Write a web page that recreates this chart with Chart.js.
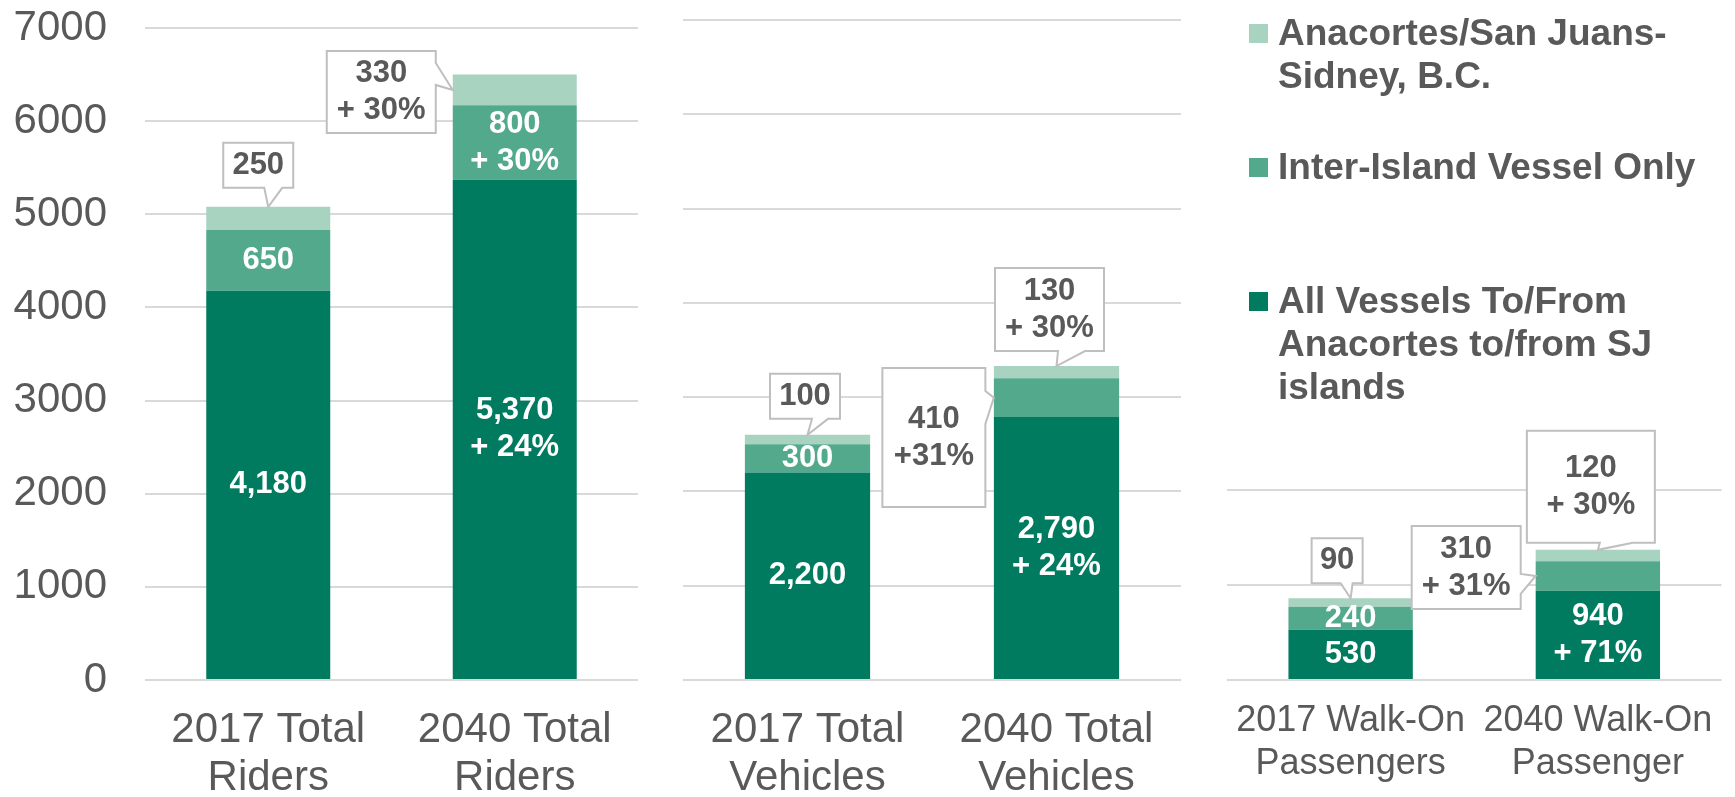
<!DOCTYPE html>
<html>
<head>
<meta charset="utf-8">
<title>Ferry ridership 2017 vs 2040</title>
<script src="https://cdn.jsdelivr.net/npm/chart.js@4.4.1/dist/chart.umd.min.js"></script>
<style>
  html, body { margin: 0; padding: 0; background: #fff; }
  body { width: 1735px; height: 797px; position: relative; overflow: hidden; }
  canvas { position: absolute; top: 0; }
  #legend {
    position: absolute; left: 1249px; top: 0;
    font: bold 37px 'Liberation Sans', Arial, sans-serif; color: #595959;
  }
  .item { position: absolute; left: 0; width: 480px; line-height: 43px; }
  .swatch { position: absolute; left: 0; top: 13px; width: 19px; height: 19px; }
  .text { margin-left: 29px; width: 445px; }
</style>
</head>
<body>
<canvas id="ridersChart" width="660" height="797" style="left:0px"></canvas>
<canvas id="vehiclesChart" width="545" height="797" style="left:660px"></canvas>
<canvas id="walkOnChart" width="530" height="797" style="left:1205px"></canvas>
<div id="legend"></div>

<script>
// Series (bottom to top of each stack)
const seriesNames = [
  'All Vessels To/From Anacortes to/from SJ islands',
  'Inter-Island Vessel Only',
  'Anacortes/San Juans-Sidney, B.C.',
];
const seriesColors = ['#007B5F', '#53A98B', '#A8D3C0'];

// Total riders
const riderLabels = [['2017 Total', 'Riders'], ['2040 Total', 'Riders']];
const riderAllVessels = [4180, 5370];
const riderInterIsland = [650, 800];
const riderSidney = [250, 330];
const riderGrowth = ['+ 24%', '+ 30%', '+ 30%'];

// Total vehicles
const vehicleLabels = [['2017 Total', 'Vehicles'], ['2040 Total', 'Vehicles']];
const vehicleAllVessels = [2200, 2790];
const vehicleInterIsland = [300, 410];
const vehicleSidney = [100, 130];
const vehicleGrowth = ['+ 24%', '+31%', '+ 30%'];

// Walk-on passengers
const walkOnLabels = [['2017 Walk-On', 'Passengers'], ['2040 Walk-On', 'Passenger']];
const walkOnAllVessels = [530, 940];
const walkOnInterIsland = [240, 310];
const walkOnSidney = [90, 120];
const walkOnGrowth = ['+ 71%', '+ 31%', '+ 30%'];

const fontFamily = "'Liberation Sans', Arial, sans-serif";
const textGray = '#595959';
const LINE = 37;

Chart.defaults.font.family = fontFamily;
Chart.defaults.color = textGray;

// Build the legend (top entry is the top of the stack)
const legendEl = document.getElementById('legend');
const legendTops = [279, 145, 11];
seriesNames.forEach((name, i) => {
  const item = document.createElement('div');
  item.className = 'item';
  item.style.top = legendTops[i] + 'px';
  item.innerHTML = '<div class="swatch" style="background:' + seriesColors[i] + '"></div>' +
    '<div class="text">' + name + '</div>';
  legendEl.appendChild(item);
});

// Label text: value on 2017 bars, value + growth on 2040 bars
function valueText(values, growth, seriesIdx) {
  return values.map((v, j) => {
    const s = v.toLocaleString('en-US');
    return j === 1 ? [s, growth[seriesIdx]] : [s];
  });
}

function drawLines(ctx, lines, x, cy) {
  lines.forEach((line, k) => {
    ctx.fillText(line, x, cy + (k - (lines.length - 1) / 2) * LINE);
  });
}

// Callout box with a pointer to the bar segment
function drawCallout(ctx, bar, c, lines) {
  let tx, ty;
  if (c.anchor === 'top') {
    tx = bar.x; ty = bar.y;
  } else {
    tx = bar.x - bar.width / 2; ty = (bar.y + bar.base) / 2;
  }
  const l = tx + c.box[0], r = tx + c.box[1], t = ty + c.box[2], b = ty + c.box[3];
  ctx.beginPath();
  ctx.moveTo(l, t);
  ctx.lineTo(r, t);
  if (c.anchor === 'top') {
    ctx.lineTo(r, b);
    ctx.lineTo(tx + c.ptr[1], b);
    ctx.lineTo(tx, ty);
    ctx.lineTo(tx + c.ptr[0], b);
    ctx.lineTo(l, b);
  } else {
    ctx.lineTo(r, ty + c.ptr[0]);
    ctx.lineTo(tx, ty);
    ctx.lineTo(r, ty + c.ptr[1]);
    ctx.lineTo(r, b);
    ctx.lineTo(l, b);
  }
  ctx.closePath();
  ctx.fillStyle = '#fff';
  ctx.fill();
  ctx.lineWidth = 2;
  ctx.strokeStyle = '#BFBFBF';
  ctx.stroke();
  ctx.fillStyle = textGray;
  drawLines(ctx, lines, (l + r) / 2, (t + b) / 2);
}

const segmentLabels = {
  id: 'segmentLabels',
  afterDatasetsDraw(chart, args, opts) {
    const ctx = chart.ctx;
    ctx.save();
    ctx.font = 'bold 31px ' + fontFamily;
    ctx.textAlign = 'center';
    ctx.textBaseline = 'middle';
    chart.data.datasets.forEach((ds, i) => {
      chart.getDatasetMeta(i).data.forEach((bar, j) => {
        const lines = ds.valueText[j];
        const call = (opts.callouts || []).find((c) => c.ds === i && c.idx === j);
        if (call) {
          drawCallout(ctx, bar, call, lines);
        } else {
          ctx.fillStyle = '#fff';
          drawLines(ctx, lines, bar.x, (bar.y + bar.base) / 2);
        }
      });
    });
    ctx.restore();
  },
};

function createStackChart(id, labels, series, growth, opts) {
  const ctx = document.getElementById(id);
  const datasets = series.map((values, i) => ({
    label: seriesNames[i],
    data: values,
    valueText: valueText(values, growth, i),
    backgroundColor: seriesColors[i],
    borderWidth: 0,
    barPercentage: 0.503,
    categoryPercentage: 1.0,
  }));

  return new Chart(ctx, {
    type: 'bar',
    data: { labels, datasets },
    plugins: [segmentLabels],
    options: {
      responsive: false,
      animation: false,
      layout: { padding: opts.padding },
      plugins: {
        legend: { display: false },
        tooltip: { enabled: false },
        segmentLabels: { callouts: opts.callouts },
      },
      scales: {
        x: {
          stacked: true,
          grid: { display: false, drawTicks: false },
          border: { display: false },
          ticks: {
            color: textGray,
            font: { size: opts.xFont, lineHeight: opts.xLineHeight },
            padding: opts.xPad,
            maxRotation: 0,
            autoSkip: false,
          },
          afterFit(scale) { scale.height = 117; },
        },
        y: {
          stacked: true,
          min: 0,
          max: opts.yMax,
          ticks: {
            display: opts.showTicks,
            stepSize: 1000,
            color: textGray,
            font: { size: 42 },
            padding: 38,
            callback: (v) => String(v),
          },
          grid: { color: '#D9D9D9', lineWidth: 2, drawTicks: false },
          border: { display: false },
          afterFit(scale) {
            scale.width = opts.yWidth;
            scale.paddingTop = 0;
            scale.paddingBottom = 0;
          },
        },
      },
    },
  });
}

createStackChart('ridersChart', riderLabels,
  [riderAllVessels, riderInterIsland, riderSidney], riderGrowth, {
    padding: { left: 0, right: 22, top: 28, bottom: 0 },
    yMax: 7000, showTicks: true, yWidth: 145,
    xFont: 42, xLineHeight: 1.15, xPad: 26,
    callouts: [
      { ds: 2, idx: 0, anchor: 'top', box: [-45, 25, -64, -19], ptr: [-4, 14] },
      { ds: 2, idx: 1, anchor: 'left', box: [-126, -17, -39, 43], ptr: [-27, -5] },
    ],
  });

createStackChart('vehiclesChart', vehicleLabels,
  [vehicleAllVessels, vehicleInterIsland, vehicleSidney], vehicleGrowth, {
    padding: { left: 23, right: 24, top: 20, bottom: 0 },
    yMax: 7000, showTicks: false, yWidth: 0,
    xFont: 42, xLineHeight: 1.15, xPad: 26,
    callouts: [
      { ds: 2, idx: 0, anchor: 'top', box: [-37.5, 32.5, -61, -16], ptr: [4.5, 20.5] },
      { ds: 1, idx: 1, anchor: 'left', box: [-111.5, -8.5, -29.6, 109.4], ptr: [-6.6, 26.4] },
      { ds: 2, idx: 1, anchor: 'top', box: [-61.5, 47.5, -98, -15], ptr: [1.5, 28.5] },
    ],
  });

createStackChart('walkOnChart', walkOnLabels,
  [walkOnAllVessels, walkOnInterIsland, walkOnSidney], walkOnGrowth, {
    padding: { left: 22, right: 11, top: 490, bottom: 0 },
    yMax: 2000, showTicks: false, yWidth: 0,
    xFont: 36, xLineHeight: 1.194, xPad: 20,
    callouts: [
      { ds: 2, idx: 0, anchor: 'top', box: [-39, 12, -60, -15], ptr: [-10, 2] },
      { ds: 1, idx: 1, anchor: 'left', box: [-124, -15, -50, 33], ptr: [-2, 18] },
      { ds: 2, idx: 1, anchor: 'top', box: [-71, 57, -119, -7], ptr: [2, 35] },
    ],
  });
</script>
</body>
</html>
